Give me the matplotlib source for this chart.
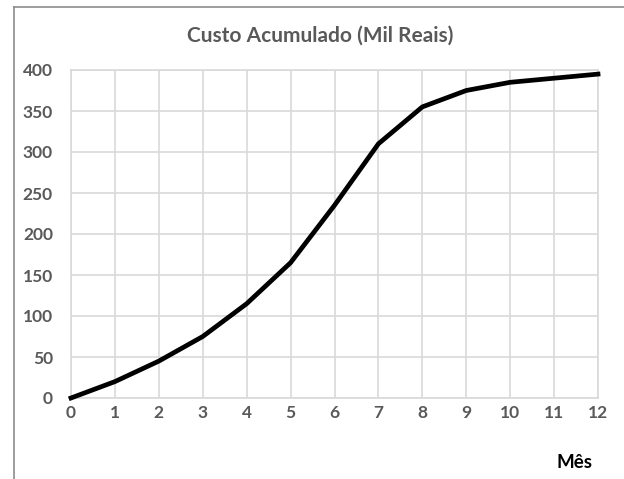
import matplotlib
matplotlib.use("Agg")
import matplotlib.pyplot as plt
from matplotlib.lines import Line2D

months = [0, 1, 2, 3, 4, 5, 6, 7, 8, 9, 10, 11, 12]
cost = [0, 20, 45, 75, 115, 165, 235, 310, 355, 375, 385, 390, 395]
yticks = [0, 50, 100, 150, 200, 250, 300, 350, 400]

plt.rcParams['font.family'] = ['Lato', 'DejaVu Sans']
txt = '#595959'
grid = '#d9d9d9'

fig = plt.figure(figsize=(6.24, 4.79), dpi=100)
ax = fig.add_axes([71/624, 1-398/479, (598-71)/624, (398-70)/479])
ax.plot(months, cost, color='black', lw=3.4, solid_joinstyle='miter', zorder=3, clip_on=False)
ax.set_xlim(0, 12)
ax.set_ylim(0, 400)
ax.set_xticks(months)
ax.set_yticks(yticks)
ax.grid(True, color=grid, lw=1.2)
ax.set_axisbelow(True)
for s in ax.spines.values():
    s.set_color(grid)
    s.set_linewidth(1.2)
ax.tick_params(length=0, labelsize=12.5, labelcolor=txt)
ax.tick_params(axis='y', pad=13)
ax.tick_params(axis='x', pad=5)
for lab in ax.get_xticklabels() + ax.get_yticklabels():
    lab.set_fontweight('bold')

fig.text(320/624, 1-36/479, 'Custo Acumulado (Mil Reais)', ha='center', va='center',
         fontsize=15, fontweight='bold', color=txt)
fig.text(593/624, 1-463/479, 'Mês', ha='right', va='center', fontsize=13.5,
         fontweight='bold', color='black')

fig.add_artist(Line2D([13.5/624, 13.5/624], [0, 1-7/479], color='#8c8c8c', lw=1.2, transform=fig.transFigure))
fig.add_artist(Line2D([13.5/624, 1], [1-7/479, 1-7/479], color='#8c8c8c', lw=1.2, transform=fig.transFigure))

fig.savefig('out.png', dpi=100)
